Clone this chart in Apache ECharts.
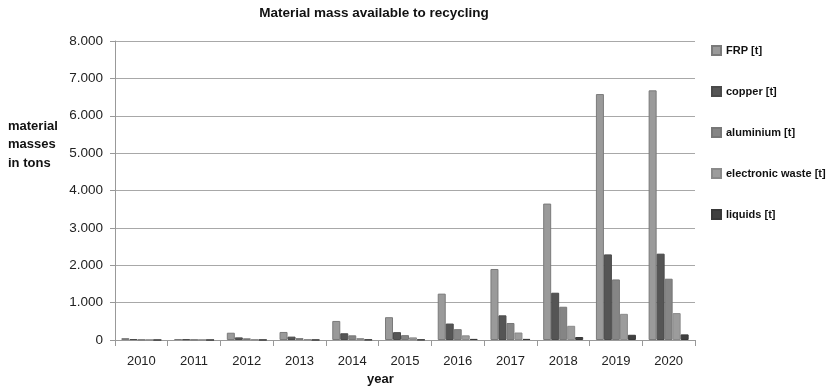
<!DOCTYPE html>
<html>
<head>
<meta charset="utf-8">
<script src="https://cdn.jsdelivr.net/npm/echarts@6/dist/echarts.min.js"></script>
<style>
html,body{margin:0;padding:0;background:#fff;}
#chart{width:831px;height:388px;}
</style>
</head>
<body>
<div id="chart"></div>
<script>
// Years on the category axis
const years = ['2010','2011','2012','2013','2014','2015','2016','2017','2018','2019','2020'];

// Material masses per year, in tons
const frp        = [50, 25, 195, 215, 510, 610, 1240, 1900, 3650, 6580, 6680];
const copper     = [25, 20, 70, 90, 180, 210, 440, 660, 1265, 2290, 2310];
const aluminium  = [10, 10, 45, 50, 125, 130, 290, 455, 890, 1620, 1640];
const eWaste     = [5, 5, 15, 20, 50, 70, 125, 200, 380, 700, 720];
const liquids    = [2, 2, 5, 5, 10, 10, 30, 30, 80, 140, 150];

// Y axis tick values
const yTicks = [0, 1000, 2000, 3000, 4000, 5000, 6000, 7000, 8000];

const seriesDefs = [
  { name: 'FRP [t]', data: frp, color: '#9a9a9a', border: '#7a7a7a' },
  { name: 'copper [t]', data: copper, color: '#555555', border: '#4a4a4a' },
  { name: 'aluminium [t]', data: aluminium, color: '#858585', border: '#777777' },
  { name: 'electronic waste [t]', data: eWaste, color: '#9c9c9c', border: '#8a8a8a' },
  { name: 'liquids [t]', data: liquids, color: '#404040', border: '#383838' }
];

const fmt = v => String(v).replace(/\B(?=(\d{3})+(?!\d))/g, '.');

const chart = echarts.init(document.getElementById('chart'));
chart.setOption({
  animation: false,
  backgroundColor: '#ffffff',
  title: {
    text: 'Material mass available to recycling',
    left: 369, top: 1, textAlign: 'center',
    textStyle: { fontFamily: 'Liberation Sans', fontSize: 13.5, fontWeight: 'bold', color: '#111' }
  },
  legend: {
    orient: 'vertical',
    left: 706, top: 40,
    itemWidth: 9, itemHeight: 9, itemGap: 30,
    icon: 'rect',
    data: seriesDefs.map(s => s.name),
    textStyle: { fontFamily: 'Liberation Sans', fontSize: 11, fontWeight: 'bold', color: '#111' }
  },
  graphic: [
    {
      type: 'text', left: 8, top: 117,
      style: { text: 'material\nmasses\nin tons', font: 'bold 13px "Liberation Sans"', fill: '#111', lineHeight: 18.5 }
    },
    {
      type: 'text', left: 367, top: 373,
      style: { text: 'year', font: 'bold 13px "Liberation Sans"', fill: '#111' }
    }
  ],
  grid: { left: 115, right: 136, top: 41, bottom: 48 },
  xAxis: {
    type: 'category',
    data: years,
    axisLine: { lineStyle: { color: '#999' } },
    axisTick: { show: true, alignWithLabel: false, length: 6, lineStyle: { color: '#999' } },
    axisLabel: { fontFamily: 'Liberation Sans', fontSize: 13, color: '#222', margin: 15 }
  },
  yAxis: {
    type: 'value',
    min: 0, max: 8000, interval: 1000,
    axisLine: { show: true, lineStyle: { color: '#999' } },
    axisTick: { show: true, inside: false, length: 5, lineStyle: { color: '#999' } },
    splitLine: { lineStyle: { color: '#a8a8a8', width: 1 } },
    axisLabel: {
      fontFamily: 'Liberation Sans', fontSize: 13.5, color: '#222', margin: 12,
      formatter: v => yTicks.includes(v) ? fmt(v) : ''
    }
  },
  series: seriesDefs.map(s => ({
    name: s.name,
    type: 'bar',
    data: s.data,
    barWidth: 8,
    barGap: '0%',
    itemStyle: { color: s.color, borderColor: s.border, borderWidth: 1 }
  }))
});
</script>
</body>
</html>
